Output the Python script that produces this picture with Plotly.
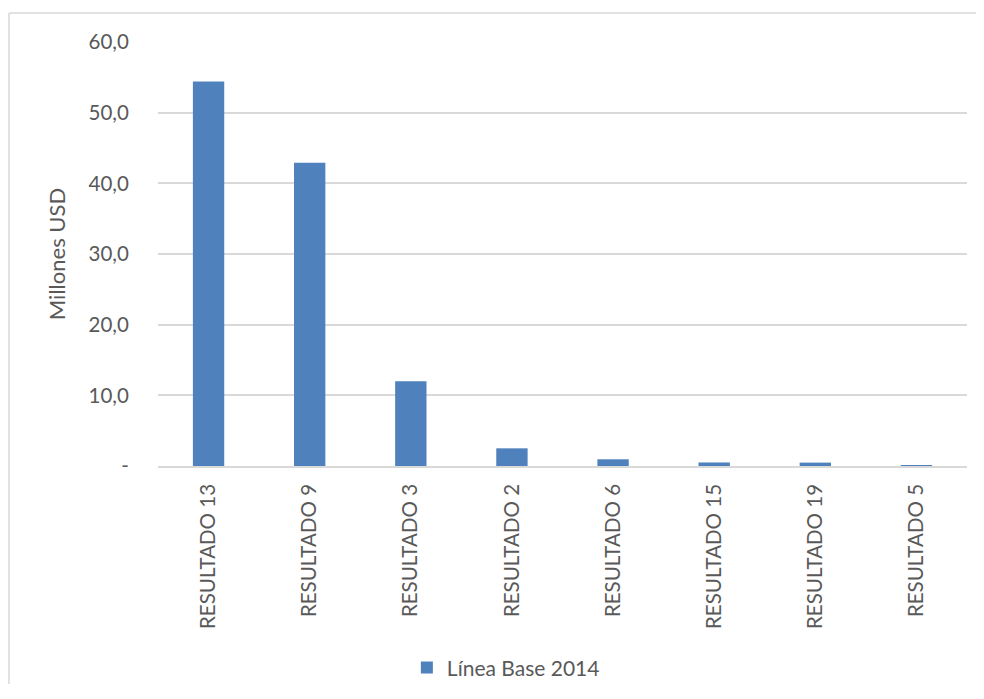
import plotly.graph_objects as go

categories = ["RESULTADO 13", "RESULTADO 9", "RESULTADO 3", "RESULTADO 2",
              "RESULTADO 6", "RESULTADO 15", "RESULTADO 19", "RESULTADO 5"]
values = [54.4, 42.9, 12.0, 2.5, 0.95, 0.5, 0.48, 0.1]
series_name = "Línea Base 2014"
y_tickvals = [0, 10, 20, 30, 40, 50, 60]
y_ticktext = ["-", "10,0", "20,0", "30,0", "40,0", "50,0", "60,0"]

FONT = "Lato"
GRAY = "#595959"
BORDER = "#D9D9D9"

fig = go.Figure()
fig.add_trace(go.Bar(x=categories, y=values, name=series_name,
                     marker=dict(color="#4F81BD", line=dict(width=0)),
                     showlegend=True))

fig.update_layout(
    width=976, height=676,
    margin=dict(l=150, r=17, t=34, b=218, autoexpand=False),
    paper_bgcolor="white", plot_bgcolor="white",
    bargap=0.69,
    font=dict(family=FONT, color=GRAY, size=19),
    showlegend=True,
    legend=dict(orientation="h", x=0.43, xanchor="center",
                yref="container", y=0.024, yanchor="middle",
                font=dict(size=21, color=GRAY, family=FONT)),
    xaxis=dict(tickangle=-90, tickfont=dict(size=20.5, color=GRAY, family=FONT),
               showgrid=False, showline=True, linecolor=BORDER, linewidth=1.5,
               ticks="outside", ticklen=8, tickcolor="white", automargin=False),
    yaxis=dict(range=[0, 60], tickvals=y_tickvals, ticktext=y_ticktext,
               tickfont=dict(size=20.5, color=GRAY, family=FONT),
               showgrid=True, gridcolor=BORDER, gridwidth=1.5,
               zeroline=False, showline=False, ticks="outside", ticklen=24,
               tickcolor="white", automargin=False,
               title=dict(text="Millones USD", font=dict(size=22, color=GRAY, family=FONT),
                          standoff=16)),
)

# outer chart border: left and top edges only (others fall outside the picture)
fig.add_shape(type="line", xref="paper", yref="paper",
              x0=-0.1842, x1=-0.1842, y0=-0.8, y1=1.0684,
              line=dict(color=BORDER, width=1.5), layer="below")
fig.add_shape(type="line", xref="paper", yref="paper",
              x0=-0.1842, x1=1.1, y0=1.0684, y1=1.0684,
              line=dict(color=BORDER, width=1.5), layer="below")

fig.write_html("out.html")
